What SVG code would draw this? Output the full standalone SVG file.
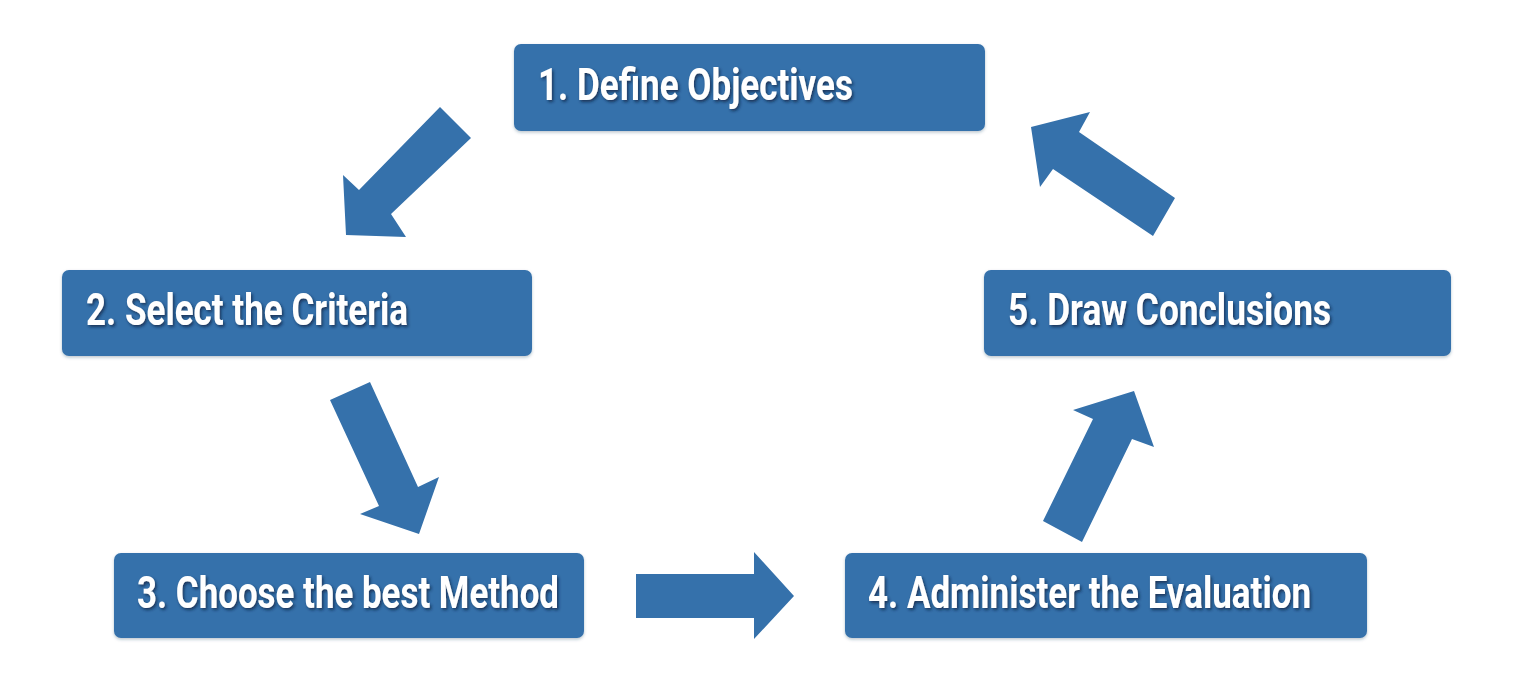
<svg xmlns="http://www.w3.org/2000/svg" width="1520" height="688" viewBox="0 0 1520 688">
<defs>
<filter id="ts" x="-5%" y="-20%" width="110%" height="150%">
<feDropShadow dx="1.5" dy="2" stdDeviation="1.5" flood-color="#0d2440" flood-opacity="0.75"/>
</filter>
<filter id="bs" x="-5%" y="-10%" width="110%" height="130%">
<feDropShadow dx="0" dy="1.5" stdDeviation="1.5" flood-color="#1d3c5c" flood-opacity="0.3"/>
</filter>
<style>
.box{fill:#3571ab;filter:url(#bs)}
.lbl{font-family:Roboto,"Liberation Sans",sans-serif;font-weight:bold;font-size:45px;fill:#ffffff;filter:url(#ts)}
.arr{fill:#3571ab}
</style>
</defs>
<rect width="1520" height="688" fill="#ffffff"/>
<g id="connectors">
<polygon class="arr" points="440,107 471,138 391,214 406,237 346,235 343,175 359,190"/>
<polygon class="arr" points="330,400 370,382 418,487 439,477 419,534 360,514 379,506"/>
<polygon class="arr" points="636,574 754,574 754,552 794,596 754,639 754,618 636,618"/>
<polygon class="arr" points="1043,521 1082,542 1132,439 1154,447 1134,391 1073,410 1093,419"/>
<polygon class="arr" points="1175,198 1153,236 1053,169 1040,187 1031,127 1090,112 1079,132"/>
</g>
<g id="node1">
<rect class="box" x="514" y="44" width="471" height="87" rx="7"/>
<text class="lbl" x="538" y="100" textLength="315" lengthAdjust="spacingAndGlyphs">1. Define Objectives</text>
</g>
<g id="node2">
<rect class="box" x="62" y="270" width="470" height="86" rx="7"/>
<text class="lbl" x="86" y="325" textLength="322" lengthAdjust="spacingAndGlyphs">2. Select the Criteria</text>
</g>
<g id="node3">
<rect class="box" x="114" y="553" width="470" height="85" rx="7"/>
<text class="lbl" x="137" y="608" textLength="422" lengthAdjust="spacingAndGlyphs">3. Choose the best Method</text>
</g>
<g id="node4">
<rect class="box" x="845" y="553" width="522" height="85" rx="7"/>
<text class="lbl" x="868" y="608" textLength="443" lengthAdjust="spacingAndGlyphs">4. Administer the Evaluation</text>
</g>
<g id="node5">
<rect class="box" x="984" y="270" width="467" height="86" rx="7"/>
<text class="lbl" x="1008" y="325" textLength="323" lengthAdjust="spacingAndGlyphs">5. Draw Conclusions</text>
</g>
</svg>
